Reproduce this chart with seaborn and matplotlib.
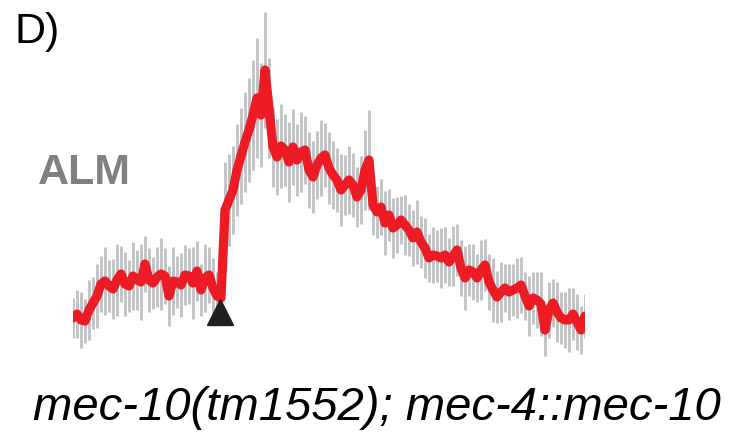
import matplotlib
matplotlib.use("Agg")
import matplotlib.pyplot as plt
import seaborn as sns
import numpy as np
import pandas as pd

# ---- data ----
frames = list(range(129))
signal = [17, 21, 15, 14, 25, 32, 39, 51, 54, 49,
          46, 55, 61, 51, 49, 59, 55, 53, 71, 55,
          52, 58, 61, 59, 39, 54, 53, 50, 60, 59,
          52, 64, 45, 57, 60, 47, 39, 37,
          125, 135, 145, 165, 179, 193, 205, 220, 237, 220, 265, 227,
          188, 178, 189, 185, 173, 188, 175, 183, 185, 165,
          158, 170, 177, 180, 167, 160, 155, 145, 150, 155,
          150, 138, 145, 165, 175,
          130, 123, 128, 112, 120, 107, 110, 115, 110, 105,
          97, 103, 93, 87, 77, 80, 79, 77, 80, 73,
          79, 85, 67, 57, 65, 63, 57, 65, 70, 53,
          45, 38, 43, 47, 43, 45, 47, 50, 39, 29,
          37, 35, 31, 5, 25, 32, 23, 17, 15, 15,
          21, 13, 5, 19]
sem = [20, 24, 28, 22, 30, 26, 32, 28, 34, 26,
       30, 36, 28, 32, 26, 34, 30, 38, 28, 32,
       26, 30, 36, 28, 30, 34, 26, 32, 30, 28,
       36, 30, 26, 34, 28, 30, 24, 20,
       48, 46, 44, 46, 48, 50, 52, 55, 60, 52, 58, 50,
       40, 38, 42, 36, 40, 38, 36, 40, 34, 38,
       36, 34, 38, 32, 36, 34, 32, 36, 30, 34,
       32, 30, 34, 40, 50,
       30, 26, 28, 32, 26, 30, 28, 24, 30, 26,
       28, 32, 26, 30, 24, 28, 26, 30, 28, 24,
       30, 26, 28, 32, 26, 28, 24, 30, 26, 28,
       32, 26, 30, 24, 28, 26, 30, 28, 24, 30,
       26, 28, 32, 26, 28, 24, 30, 26, 28, 32,
       26, 28, 24, 22]
stim_frame = [36.75]
stim_level = [23]

df = pd.DataFrame({"frame": frames, "signal": signal, "sem": sem})

W, H = 753, 437
fig = plt.figure(figsize=(W / 100, H / 100), dpi=100)
sns.set_style("white")
plt.rcParams["font.family"] = ["Liberation Sans", "DejaVu Sans"]

ax = fig.add_axes([73 / W, 0, 512 / W, 1])
ax.set_xlim(0, 128)
ax.set_ylim(-102, 335)
ax.axis("off")

ax.errorbar(df["frame"], df["signal"], yerr=df["sem"], fmt="none",
            ecolor="#C2C3C5", elinewidth=2.1, capsize=0, zorder=1)
sns.lineplot(data=df, x="frame", y="signal", ax=ax, color="#ED1C24",
             linewidth=6.6, solid_joinstyle="round", solid_capstyle="round",
             zorder=2)
ax.plot(stim_frame, stim_level, marker="^", markersize=19, color="#231F20",
        linestyle="none", zorder=3)

fig.text(15 / W, 1 - 43 / H, "D)", fontsize=31, color="black",
         ha="left", va="baseline")
fig.text(38 / W, 1 - 184 / H, "ALM", fontsize=31, color="#808080",
         fontweight="bold", ha="left", va="baseline")
fig.text(377 / W, 1 - 420 / H, "mec-10(tm1552); mec-4::mec-10", fontsize=34,
         style="italic", color="black", ha="center", va="baseline")

fig.savefig("out.png", dpi=100)
